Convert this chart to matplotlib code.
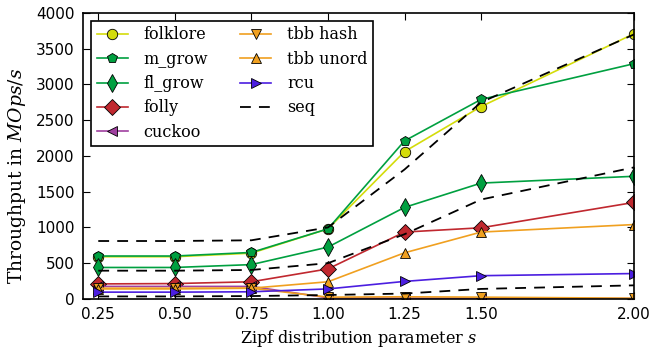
import matplotlib
matplotlib.use("Agg")
import matplotlib.pyplot as plt
import numpy as np

# zipf parameter on the x axis
s = [0.25, 0.5, 0.75, 1.0, 1.25, 1.5, 2.0]

# throughput in MOps/s
folklore = [590, 590, 640, 980, 2060, 2690, 3710]
m_grow = [600, 600, 650, 980, 2210, 2790, 3290]
fl_grow = [440, 440, 480, 725, 1280, 1620, 1715]
folly = [210, 215, 240, 420, 935, 995, 1350]
cuckoo = [175, 175, 175, 15, 10, 10, 5]
tbb_hash = [150, 150, 150, 25, 30, 25, 10]
tbb_unord = [140, 140, 150, 240, 645, 935, 1040]
rcu = [95, 95, 100, 140, 245, 325, 355]
# sequential reference curves (three of them, one legend entry)
seq_curves = [
    [810, 810, 820, 1000, 1810, 2750, 3700],
    [395, 395, 405, 500, 905, 1390, 1840],
    [35, 35, 40, 55, 75, 140, 190],
]

plt.rcParams['mathtext.fontset'] = 'dejavuserif'
serif = ['DejaVu Serif Condensed', 'DejaVu Serif']

fig = plt.figure(figsize=(6.69, 3.48), dpi=100)
ax = fig.add_axes([0.124, 0.141, 0.824, 0.822])

series = [
    ("folklore", folklore, "o", "#d4dc0a"),
    ("m_grow", m_grow, "p", "#00a040"),
    ("fl_grow", fl_grow, "d", "#00a040"),
    ("folly", folly, "D", "#c0282f"),
    ("cuckoo", cuckoo, "<", "#a040a0"),
    ("tbb hash", tbb_hash, "v", "#f0a020"),
    ("tbb unord", tbb_unord, "^", "#f0a020"),
    ("rcu", rcu, ">", "#4b1ee0"),
]

for name, vals, mk, col in series:
    ms = 7.5
    if mk == "D":
        ms = 8
    if mk == "d":
        ms = 9
    ax.plot(s, vals, marker=mk, color=col, markerfacecolor=col,
            markeredgecolor="black", markeredgewidth=0.6, markersize=ms,
            linewidth=1.2, label=name)

for i, c in enumerate(seq_curves):
    ax.plot(s, c, color="black", linewidth=1.3, dashes=[6, 4.5],
            label="seq" if i == 0 else None)

ax.set_xlim(0.2, 2.0)
ax.set_ylim(0, 4000)
ax.set_xticks(s)
ax.set_xticklabels(["%.2f" % v for v in s])
ax.set_yticks(np.arange(0, 4001, 500))
ax.tick_params(direction="in", top=True, right=True, labelsize=11,
               length=5, width=0.8, pad=6)
for sp in ax.spines.values():
    sp.set_linewidth(1.2)

ax.set_xlabel("Zipf distribution parameter $s$", family="DejaVu Serif", fontsize=11.5)
ax.set_ylabel("Throughput in $MOps/s$", family="DejaVu Serif", fontsize=13.5)
ax.yaxis.set_label_coords(-0.1, 0.43)

leg = ax.legend(loc="upper left", ncol=2, fancybox=False, framealpha=1,
                edgecolor="black", prop={"family": serif, "size": 11.5},
                handlelength=1.95, columnspacing=2.0, borderaxespad=0.5,
                borderpad=0.35, labelspacing=0.46, handletextpad=1.0)
leg.get_frame().set_linewidth(1.2)

fig.savefig("out.png", dpi=100)
